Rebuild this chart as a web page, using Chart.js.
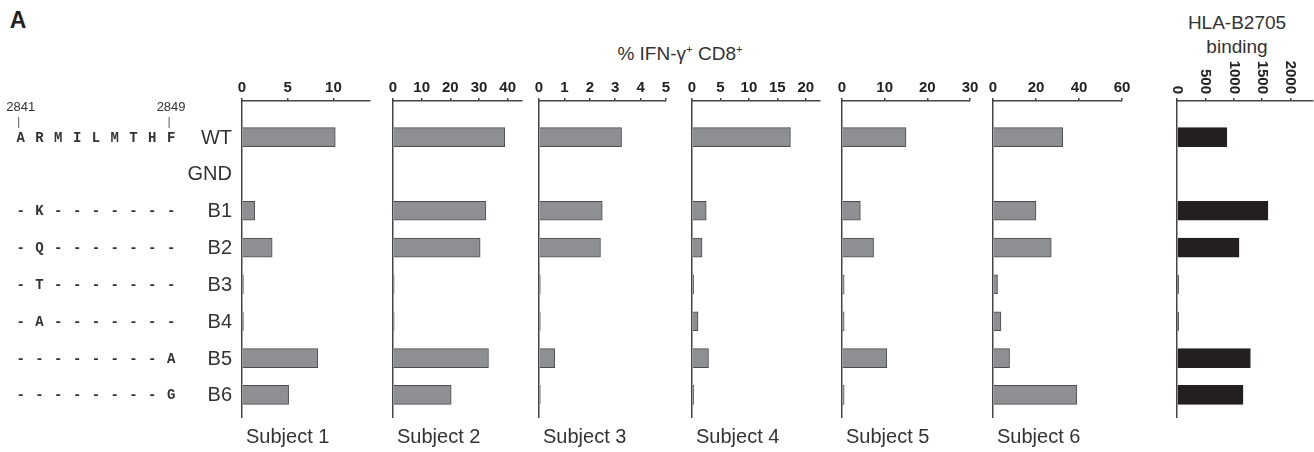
<!DOCTYPE html>
<html>
<head>
<meta charset="utf-8">
<script src="https://cdn.jsdelivr.net/npm/chart.js@4.4.1/dist/chart.umd.min.js"></script>
<style>
  html, body { margin: 0; padding: 0; background: #fff; }
  body { position: relative; width: 1314px; height: 452px; overflow: hidden;
         font-family: "Liberation Sans", Arial, sans-serif; color: #333; }
  .panel { position: absolute; top: 0; height: 452px; }
  .txt { position: absolute; white-space: nowrap; line-height: 1; transform: translate(-50%, -50%); }
  sup { font-size: 60%; vertical-align: 0.55em; line-height: 0; }
</style>
</head>
<body>
<div class="txt" style="left:18px; top:20px; font-weight:bold; font-size:23px; color:#222;">A</div>
<div class="txt" style="left:680px; top:53px; font-size:19px;">% IFN-&gamma;<sup>+</sup> CD8<sup>+</sup></div>
<div class="txt" style="left:1237px; top:22px; font-size:19px;">HLA-B2705</div>
<div class="txt" style="left:1237px; top:46px; font-size:19px;">binding</div>

<div id="panels"></div>

<script>
// rows (peptide variants)
const rowLabels = ['WT', 'GND', 'B1', 'B2', 'B3', 'B4', 'B5', 'B6'];
const rowSequences = ['ARMILMTHF', '', '-K-------', '-Q-------', '-T-------', '-A-------', '--------A', '--------G'];
const residueNumbers = ['2841', '2849'];

// % IFN-gamma+ CD8+ per subject (GND has no bar)
const subjectNames = ['Subject 1', 'Subject 2', 'Subject 3', 'Subject 4', 'Subject 5', 'Subject 6'];
const subject1 = [10.2, null, 1.4, 3.3, 0.15, 0.15, 8.3, 5.1];
const subject2 = [39, null, 32.4, 30.4, 0.4, 0.4, 33.3, 20.3];
const subject3 = [3.25, null, 2.49, 2.42, 0.05, 0.05, 0.62, 0.05];
const subject4 = [17.3, null, 2.5, 1.76, 0.3, 1.06, 2.9, 0.3];
const subject5 = [15, null, 4.3, 7.4, 0.5, 0.5, 10.5, 0.5];
const subject6 = [32.4, null, 20, 27.1, 2.1, 3.7, 7.7, 39];
const hlaBinding = [880, null, 1605, 1095, 25, 25, 1295, 1165];

// axis ranges / tick steps
const subjectMax = [14, 45, 5, 22.5, 30, 60];
const subjectStep = [5, 10, 1, 5, 10, 20];
const hlaMax = 2400;
const hlaTicks = [0, 500, 1000, 1500, 2000];

// layout: pixel of the zero line and the end of each x axis
const zeroPx = [242, 392.7, 539.3, 691.7, 841.7, 992.7, 1176.7];
const endPx = [370, 521.7, 666.7, 820, 970, 1121.7, 1312.7];
const AXIS_TOP = 101, AXIS_BOTTOM = 417, PAD = 14;

Chart.defaults.font.family = '"Liberation Sans", Arial, sans-serif';
Chart.defaults.color = '#222';

const axisColor = '#444';

const captionPlugin = {
  id: 'caption',
  afterDraw(chart, args, opts) {
    if (!opts.text) return;
    const { ctx, chartArea } = chart;
    ctx.save();
    ctx.fillStyle = '#333';
    ctx.font = '20px "Liberation Sans", Arial, sans-serif';
    ctx.textAlign = 'left';
    ctx.textBaseline = 'middle';
    ctx.fillText(opts.text, chartArea.left + 4, 437);
    ctx.restore();
  }
};

const rotatedTicksPlugin = {
  id: 'rotatedTicks',
  afterDraw(chart, args, opts) {
    if (!opts.enabled) return;
    const { ctx, chartArea } = chart;
    const xs = chart.scales.x;
    ctx.save();
    ctx.fillStyle = '#222';
    ctx.font = 'bold 15px "Liberation Sans", Arial, sans-serif';
    ctx.textAlign = 'right';
    ctx.textBaseline = 'middle';
    xs.ticks.forEach(t => {
      ctx.save();
      ctx.translate(xs.getPixelForValue(t.value), chartArea.top - 7);
      ctx.rotate(Math.PI / 2);
      ctx.fillText(String(t.value), 0, 0);
      ctx.restore();
    });
    ctx.restore();
  }
};

const sequencePlugin = {
  id: 'sequences',
  afterDraw(chart, args, opts) {
    if (!opts.enabled) return;
    const { ctx, chartArea } = chart;
    const ys = chart.scales.y;
    const colX = k => 20.7 + 18.8 * k;
    ctx.save();
    ctx.fillStyle = '#333';
    ctx.textBaseline = 'middle';

    ctx.font = '20px "Liberation Sans", Arial, sans-serif';
    ctx.textAlign = 'right';
    rowLabels.forEach((lab, i) => ctx.fillText(lab, chartArea.left - 10, ys.getPixelForValue(i) + 1));

    ctx.font = 'bold 14px "Liberation Mono", "DejaVu Sans Mono", monospace';
    ctx.textAlign = 'center';
    rowSequences.forEach((seq, i) => {
      [...seq].forEach((c, k) => ctx.fillText(c, colX(k), ys.getPixelForValue(i) + 1));
    });

    const y0 = ys.getPixelForValue(0);
    ctx.font = '13px "Liberation Sans", Arial, sans-serif';
    ctx.strokeStyle = '#555';
    ctx.lineWidth = 1;
    [0, 8].forEach((k, j) => {
      ctx.fillText(residueNumbers[j], colX(k), y0 - 30);
      ctx.beginPath();
      ctx.moveTo(colX(k) - 2, y0 - 20);
      ctx.lineTo(colX(k) - 2, y0 - 9);
      ctx.stroke();
    });
    ctx.restore();
  }
};

const panelsEl = document.getElementById('panels');

function makePanel(idx, values, max, step, opts) {
  const left = idx === 0 ? 0 : zeroPx[idx] - PAD;
  const padLeft = zeroPx[idx] - left;
  const width = endPx[idx] - left + PAD;
  const wrap = document.createElement('div');
  wrap.className = 'panel';
  wrap.style.left = left + 'px';
  wrap.style.width = width + 'px';
  const cv = document.createElement('canvas');
  cv.width = width;
  cv.height = 452;
  wrap.appendChild(cv);
  panelsEl.appendChild(wrap);

  new Chart(cv.getContext('2d'), {
    type: 'bar',
    data: {
      datasets: [{
        data: values.map((v, i) => ({ x: v, y: i })),
        backgroundColor: opts.fill,
        borderColor: opts.border,
        borderWidth: 1,
        barThickness: 19
      }]
    },
    options: {
      indexAxis: 'y',
      responsive: false,
      animation: false,
      events: [],
      layout: { padding: { left: padLeft, right: PAD, top: 0, bottom: 452 - AXIS_BOTTOM } },
      plugins: {
        legend: { display: false },
        tooltip: { enabled: false },
        caption: { text: opts.caption },
        rotatedTicks: { enabled: !!opts.rotated },
        sequences: { enabled: !!opts.sequences }
      },
      scales: {
        x: {
          type: 'linear',
          position: 'top',
          min: 0,
          max: max,
          afterFit: s => { s.height = AXIS_TOP; },
          afterBuildTicks: opts.tickValues ? (s => { s.ticks = opts.tickValues.map(v => ({ value: v })); }) : undefined,
          ticks: {
            display: !opts.rotated,
            stepSize: step,
            includeBounds: false,
            padding: 1,
            maxRotation: 0,
            color: '#222',
            font: { size: 15, weight: 'bold' }
          },
          grid: { display: true, drawOnChartArea: false, drawTicks: true, tickLength: 3, color: axisColor, lineWidth: 1.5 },
          border: { display: true, color: axisColor, width: 1.5 }
        },
        y: {
          type: 'linear',
          reverse: true,
          offset: false,
          min: -0.98,
          max: 7.6,
          afterFit: s => { s.width = 0; },
          ticks: { display: false },
          grid: { display: false, drawTicks: false, offset: false },
          border: { display: true, color: axisColor, width: 1.5 }
        }
      }
    },
    plugins: [captionPlugin, rotatedTicksPlugin, sequencePlugin]
  });
}

const subjects = [subject1, subject2, subject3, subject4, subject5, subject6];
subjects.forEach((vals, i) => {
  makePanel(i, vals, subjectMax[i], subjectStep[i], {
    fill: '#8e8f93', border: '#4d4d4d', caption: subjectNames[i], sequences: i === 0
  });
});
makePanel(6, hlaBinding, hlaMax, 500, {
  fill: '#231f20', border: '#231f20', caption: '', rotated: true, tickValues: hlaTicks
});
</script>
</body>
</html>
